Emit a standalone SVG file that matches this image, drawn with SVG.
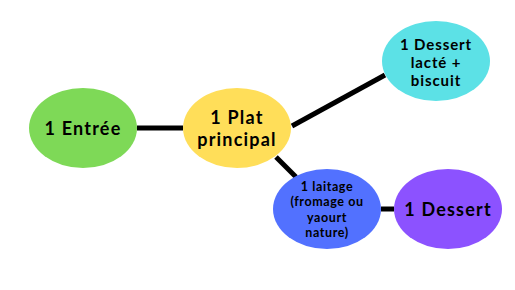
<svg xmlns="http://www.w3.org/2000/svg" width="515" height="290" viewBox="0 0 515 290">
<style>
.t{font-family:"Lato","Open Sans",sans-serif;font-weight:bold;fill:#000;text-anchor:middle}
.big{font-size:18px;letter-spacing:1.2px}
.mid{font-size:15px;letter-spacing:0.9px}
.sm{font-size:12.5px;letter-spacing:0.6px}
.c{stroke:#000;stroke-width:5;fill:none}
</style>
<rect width="515" height="290" fill="#fff"/>
<g id="connectors">
<line class="c" x1="137" y1="128" x2="183" y2="128"/>
<line class="c" x1="292" y1="126" x2="385" y2="75"/>
<line class="c" x1="276" y1="157" x2="296" y2="177"/>
<line class="c" x1="381" y1="209" x2="394" y2="209"/>
</g>
<g id="entree">
<ellipse cx="83" cy="128" rx="54" ry="40" fill="#7ED957"/>
<text class="t big" x="83" y="135">1 Entrée</text>
</g>
<g id="plat">
<ellipse cx="237" cy="128" rx="54" ry="40" fill="#FFDE59"/>
<text class="t big" x="237" y="124">1 Plat</text>
<text class="t big" x="237" y="146">principal</text>
</g>
<g id="dessert-lacte">
<ellipse cx="436" cy="61" rx="54" ry="40" fill="#5CE1E6"/>
<text class="t mid" x="436" y="50">1 Dessert</text>
<text class="t mid" x="436" y="68">lacté +</text>
<text class="t mid" x="436" y="86">biscuit</text>
</g>
<g id="laitage">
<ellipse cx="327" cy="209" rx="54" ry="40" fill="#5271FF"/>
<text class="t sm" x="327" y="191">1 laitage</text>
<text class="t sm" x="327" y="206">(fromage ou</text>
<text class="t sm" x="327" y="221.5">yaourt</text>
<text class="t sm" x="327" y="237">nature)</text>
</g>
<g id="dessert">
<ellipse cx="448" cy="209" rx="54" ry="40" fill="#8C52FF"/>
<text class="t big" x="448" y="216">1 Dessert</text>
</g>
</svg>
